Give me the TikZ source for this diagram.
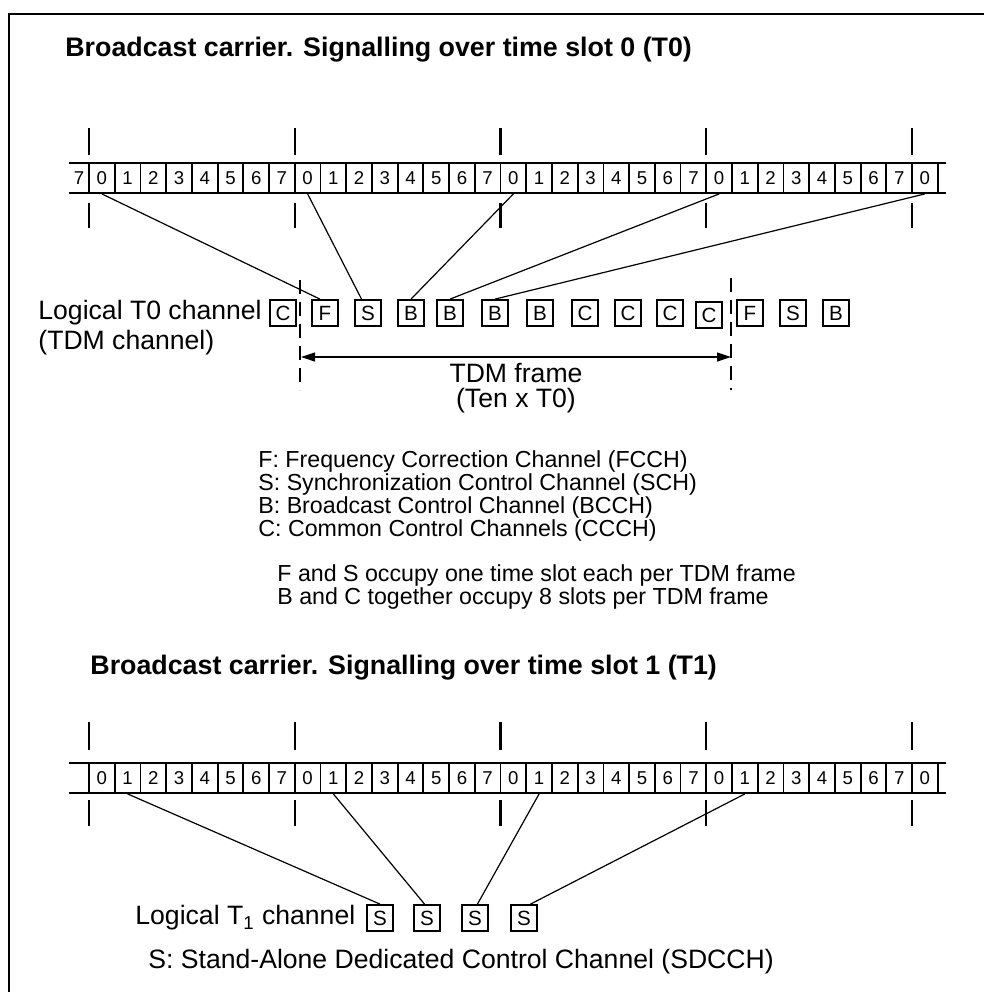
\documentclass[tikz,border=0pt]{standalone}
\usepackage{fontspec}
\setmainfont{Liberation Sans}
\usetikzlibrary{arrows.meta,positioning}
\tikzset{
  slot/.style  = {draw, line width=0.9pt, minimum width=12.86pt, minimum height=15pt,
                  inner sep=0pt, font=\fontsize{9.3}{10}\selectfont},
  chan/.style  = {draw, line width=0.9pt, minimum size=13pt, inner sep=0pt,
                  font=\fontsize{10.3}{11}\selectfont},
  tick/.style  = {line width=1.2pt},
  rail/.style  = {line width=1pt},
  link/.style  = {line width=0.6pt},
  title/.style = {anchor=west, inner sep=0pt, font=\fontsize{13.4}{16}\selectfont\bfseries},
  txt/.style   = {anchor=west, inner sep=0pt, font=\fontsize{13.3}{15}\selectfont},
  note/.style  = {anchor=west, inner sep=0pt, align=left, font=\fontsize{11.6}{11.6}\selectfont},
  framedash/.style = {dash pattern=on 7pt off 4pt, line width=0.6pt},
  span/.style  = {{Triangle[length=7pt,width=4.5pt]}-{Triangle[length=7pt,width=4.5pt]}, line width=0.6pt},
}

\begin{document}
\begin{tikzpicture}[x=0.5pt, y=-0.5pt]
  \useasboundingbox (0,0) rectangle (984,992);
  \draw[rail] (9,992) -- (9,14) -- (984,14);

  % time slot 0 carrier
  \node[title] (head0) at (65,50) {Broadcast carrier. Signalling over time slot 0 (T0)};
  \draw[rail] (69,163) -- (946,163) (69,193) -- (946,193);
  \node[font=\fontsize{9.3}{10}\selectfont] (pre0) at (79,178) {7};
  \foreach \k in {0,...,32} {
    \pgfmathtruncatemacro\lab{mod(\k,8)}
    \node[slot] (a\k) at ({89+25.72*(\k+0.5)},178) {\lab};
  }
  \foreach \i in {0,...,4}
    \draw[tick] ({89+205.76*\i},128) -- ({89+205.76*\i},155)
                ({89+205.76*\i},203) -- ({89+205.76*\i},228);

  % logical T0 channel
  \node[txt] (lt0) at (38,313) {Logical T0 channel};
  \node[txt] (tdm) at (38,343) {(TDM channel)};
  \foreach \c/\x/\y [count=\n] in {C/283/313,F/325/313,S/368/313,B/411/313,B/450/313,
      B/495/313,B/540/313,C/585/313,C/628/313,C/670/313,C/709/315,F/750/313,S/793/313,B/836/313}
    \node[chan] (b\n) at (\x,\y) {\c};
  \draw[link] (a0.south) -- (b2.110);
  \draw[link] (a8.south) -- (b3.115);
  \draw[link] (a16.south) -- (b4.north);
  \draw[link] (a24.south) -- (b5.north);
  \draw[link] (a32.south) -- (b6.north);

  % TDM frame
  \draw[framedash] (300,280) -- (300,390);
  \draw[framedash] (731,278) -- (731,390);
  \coordinate (fl) at (301,357);
  \coordinate (fr) at (731,357);
  \draw[span] (fl) -- (fr);
  \node[align=center, inner sep=0pt, font=\fontsize{13.3}{12.4}\selectfont] (frm) at (516,388)
    {TDM frame\\(Ten x T0)};

  % legend
  \node[note] (leg) at (258,496)
    {F: Frequency Correction Channel (FCCH)\\
     S: Synchronization Control Channel (SCH)\\
     B: Broadcast Control Channel (BCCH)\\
     C: Common Control Channels (CCCH)};
  \node[note] (occ) at (277,587)
    {F and S occupy one time slot each per TDM frame\\
     B and C together occupy 8 slots per TDM frame};

  % time slot 1 carrier
  \node[title] (head1) at (90,668) {Broadcast carrier. Signalling over time slot 1 (T1)};
  \draw[rail] (69,763) -- (946,763) (69,793) -- (946,793);
  \foreach \k in {0,...,32} {
    \pgfmathtruncatemacro\lab{mod(\k,8)}
    \node[slot] (c\k) at ({89+25.72*(\k+0.5)},778) {\lab};
  }
  \foreach \i in {0,...,4}
    \draw[tick] ({89+205.76*\i},722) -- ({89+205.76*\i},750)
                ({89+205.76*\i},800) -- ({89+205.76*\i},826);

  % logical T1 channel
  \node[txt] (lt1) at (135,918) {Logical T\textsubscript{1} channel};
  \foreach \x [count=\n] in {380,427,475,524}
    \node[chan] (s\n) at (\x,918) {S};
  \draw[link] (c1.south) -- (s1.north);
  \draw[link] (c9.south) -- (s2.100);
  \draw[link] (c17.south) -- (s3.80);
  \draw[link] (c25.south) -- (s4.65);
  \node[txt] (sdc) at (148,962) {S: Stand-Alone Dedicated Control Channel (SDCCH)};
\end{tikzpicture}
\end{document}
